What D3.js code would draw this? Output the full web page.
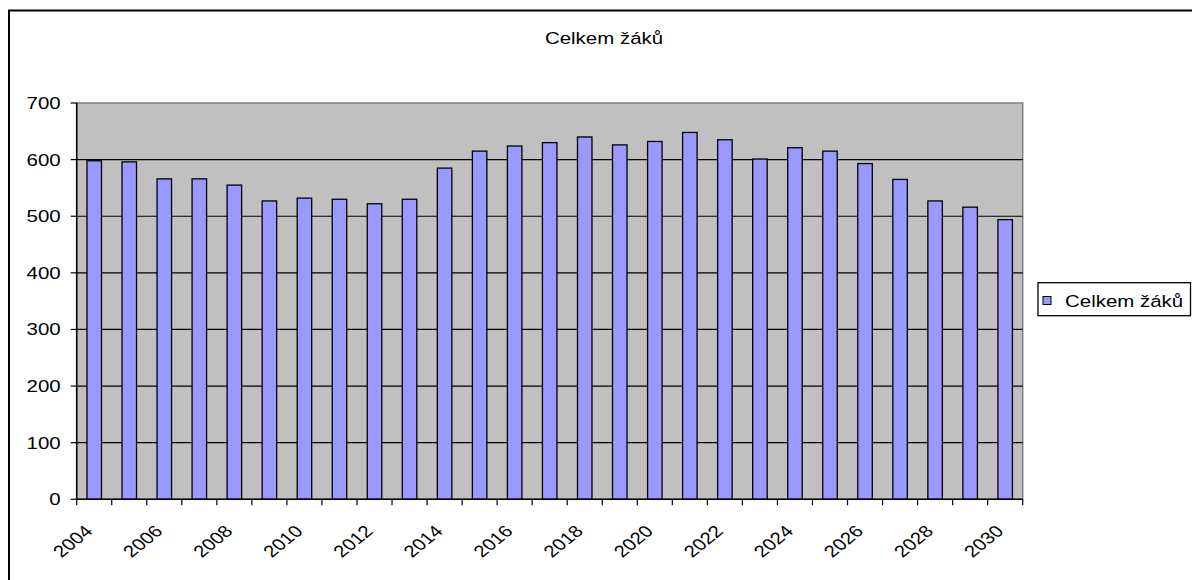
<!DOCTYPE html>
<html><head><meta charset="utf-8">
<script src="https://cdn.jsdelivr.net/npm/d3@7"></script>
<style>body{margin:0;background:#fff}svg{display:block}text{font-family:"Liberation Sans",Arial,sans-serif}</style>
</head><body>
<script>
const years = [2004,2005,2006,2007,2008,2009,2010,2011,2012,2013,2014,2015,2016,2017,2018,2019,2020,2021,2022,2023,2024,2025,2026,2027,2028,2029,2030];
const values = [598,596,566,566,555,527,532,530,522,530,585,615,624,630,640,626,632,648,635,601,621,615,593,565,527,516,494];
const yTicks = [0,100,200,300,400,500,600,700];
const xLabels = [2004,2006,2008,2010,2012,2014,2016,2018,2020,2022,2024,2026,2028,2030];
const title = "Celkem žáků";
const seriesName = "Celkem žáků";

const W = 1192, H = 580;
const L = 76.7, R = 1022.7, T = 103, B = 499.3;
const SX = 1.24, FS = 16.5;

const svg = d3.select("body").append("svg").attr("width", W).attr("height", H);

// outer chart border
svg.append("rect").attr("x", 9).attr("y", 10.5).attr("width", W + 10).attr("height", H + 10)
  .attr("fill", "#fff").attr("stroke", "#000").attr("stroke-width", 2);

const pi = 0.586;
const x = d3.scaleBand().domain(years).range([L, R]).paddingInner(pi).paddingOuter(pi / 2);
const y = d3.scaleLinear().domain([0, 700]).range([B, T]);
const step = x.step();

// plot area
svg.append("rect").attr("x", L).attr("y", T).attr("width", R - L).attr("height", B - T)
  .attr("fill", "#C0C0C0").attr("stroke", "#808080").attr("stroke-width", 1.5);

// gridlines
svg.append("g").selectAll("line").data(yTicks.filter(d => d > 0 && d < 700)).join("line")
  .attr("x1", L).attr("x2", R).attr("y1", d => y(d)).attr("y2", d => y(d))
  .attr("stroke", "#000").attr("stroke-width", 1.2);

// bars
svg.append("g").selectAll("rect").data(years).join("rect")
  .attr("x", d => x(d)).attr("width", x.bandwidth())
  .attr("y", (d, i) => y(values[i])).attr("height", (d, i) => B - y(values[i]))
  .attr("fill", "#9999FF").attr("stroke", "#000").attr("stroke-width", 1.3);

// y axis
const ya = svg.append("g");
ya.append("line").attr("x1", L).attr("x2", L).attr("y1", T).attr("y2", B).attr("stroke", "#000").attr("stroke-width", 1.5);
ya.selectAll("line.t").data(yTicks).join("line").attr("class", "t")
  .attr("x1", L - 6).attr("x2", L).attr("y1", d => y(d)).attr("y2", d => y(d))
  .attr("stroke", "#000").attr("stroke-width", 1.2);
ya.selectAll("text").data(yTicks).join("text")
  .attr("transform", d => `translate(${L - 16},${y(d) + 6}) scale(${SX},1)`)
  .attr("text-anchor", "end").attr("font-size", FS).attr("fill", "#000").text(d => d);

// x axis
const xa = svg.append("g");
xa.append("line").attr("x1", L).attr("x2", R).attr("y1", B).attr("y2", B).attr("stroke", "#000").attr("stroke-width", 1.5);
const bounds = years.map(d => x(d) - step * pi / 2).concat([x(years[years.length - 1]) + x.bandwidth() + step * pi / 2]);
xa.selectAll("line.t").data(bounds).join("line").attr("class", "t")
  .attr("x1", d => d).attr("x2", d => d).attr("y1", B).attr("y2", B + 6)
  .attr("stroke", "#000").attr("stroke-width", 1.2);
xa.selectAll("text").data(xLabels).join("text")
  .attr("transform", d => `translate(${x(d) + x.bandwidth() / 2 - 0.5},${B + 33}) scale(${SX},1) rotate(-45)`)
  .attr("text-anchor", "end").attr("font-size", FS).attr("fill", "#000").text(d => d);

// title
svg.append("text").attr("transform", `translate(604,43.5) scale(${SX},1)`)
  .attr("text-anchor", "middle").attr("font-size", FS).attr("fill", "#000").text(title);

// legend
const lg = svg.append("g");
lg.append("rect").attr("x", 1038).attr("y", 282.7).attr("width", 152.5).attr("height", 33)
  .attr("fill", "#fff").attr("stroke", "#000").attr("stroke-width", 1.3);
lg.append("rect").attr("x", 1043).attr("y", 296.5).attr("width", 8).attr("height", 8)
  .attr("fill", "#9999FF").attr("stroke", "#000").attr("stroke-width", 1);
lg.append("text").attr("transform", `translate(1065,306.5) scale(${SX},1)`)
  .attr("font-size", FS).attr("fill", "#000").text(seriesName);
</script>
</body></html>
